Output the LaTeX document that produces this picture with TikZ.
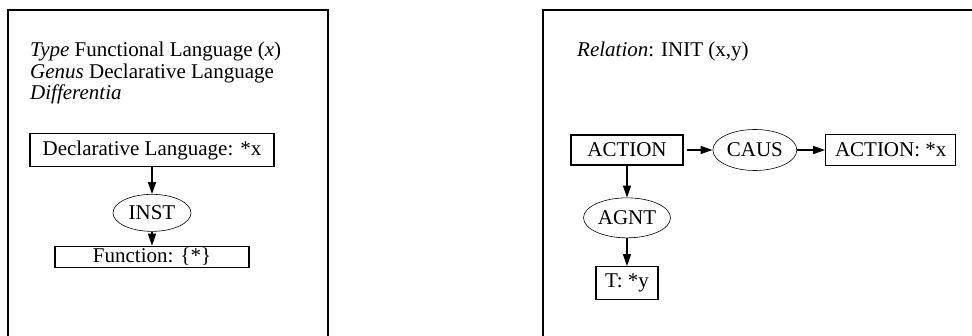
\documentclass[tikz,border=0pt]{standalone}
\usepackage{fontspec}
\setmainfont{Liberation Serif}
\usetikzlibrary{shapes,arrows.meta,positioning}

\begin{document}
\begin{tikzpicture}[
    x=1pt, y=-1pt,
    font=\fontsize{21}{22}\selectfont,
    concept/.style={rectangle, draw, line width=1.1pt, inner sep=0pt},
    relation/.style={ellipse, draw, line width=0.6pt, inner sep=0pt},
    label/.style={anchor=base west, inner sep=0pt},
    arrow/.style={-{Triangle[length=12pt, width=8pt]}, line width=1.4pt}
]
\useasboundingbox (0,0) rectangle (972,336);

% Frames
\draw[line width=1.1pt] (8,10) rectangle (328,350);
\draw[line width=1.1pt] (543,10) rectangle (990,350);

% Definition of the type
\node[label] (typeline) at (30,57) {\textit{Type} Functional Language (\textit{x})};
\node[label] (genusline) at (30,79) {\textit{Genus} Declarative Language};
\node[label] (diffline) at (30,100) {\textit{Differentia}};

\node[concept, minimum width=244pt, minimum height=33pt] (decl) at (152,150) {Declarative Language: *x};
\node[relation, minimum width=78pt, minimum height=37pt, below=27pt of decl] (inst) {INST};
\node[concept, minimum width=194pt, minimum height=21pt, below=14pt of inst] (func) {Function: \{*\}};

\draw[arrow] (decl) -- (inst);
\draw[arrow] (inst) -- (func);

% Definition of the relation
\node[label] (relline) at (577,57) {\textit{Relation}: INIT (x,y)};

\node[concept, minimum width=112pt, minimum height=30pt] (action) at (627,150) {ACTION};
\node[relation, minimum width=84pt, minimum height=41pt, right=29pt of action] (caus) {CAUS};
\node[concept, minimum width=130pt, minimum height=31pt, right=28pt of caus] (actx) {ACTION: *x};
\node[relation, minimum width=87pt, minimum height=40pt, below=32pt of action] (agnt) {AGNT};
\node[concept, minimum width=62pt, minimum height=33pt, below=28pt of agnt] (tgt) {T: *y};

\draw[arrow, shorten <=3pt] (action) -- (caus);
\draw[arrow] (caus) -- (actx);
\draw[arrow] (action) -- (agnt);
\draw[arrow] (agnt) -- (tgt);

\end{tikzpicture}
\end{document}
